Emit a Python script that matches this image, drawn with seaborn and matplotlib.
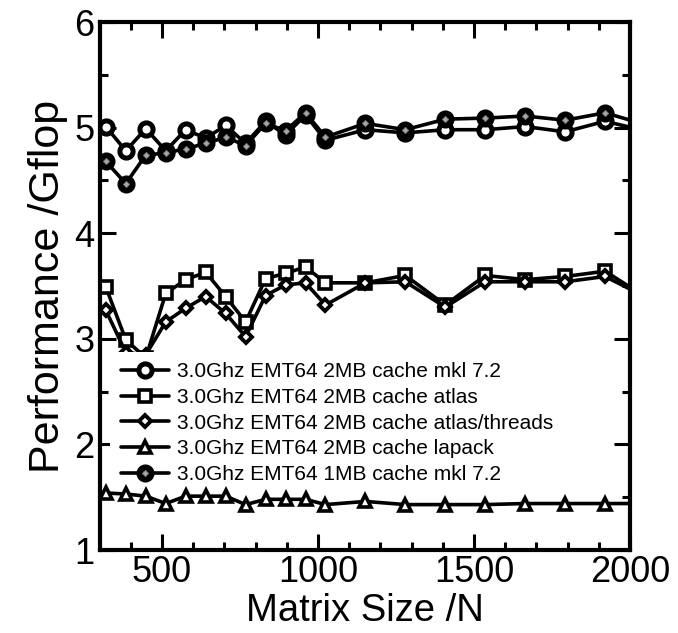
import matplotlib
matplotlib.use("Agg")
import matplotlib.pyplot as plt
import seaborn as sns
from matplotlib.ticker import MultipleLocator
from matplotlib.legend_handler import HandlerTuple

# ---- data ----
matrix_n = [320, 384, 448, 512, 576, 640, 704, 768, 832, 896, 960, 1024,
            1152, 1280, 1408, 1536, 1664, 1792, 1920, 2048]
mkl_2mb = [5.01, 4.78, 4.99, 4.78, 4.98, 4.90, 5.02, 4.85, 5.06, 4.93, 5.12, 4.88,
           4.98, 4.95, 4.98, 4.98, 5.01, 4.96, 5.06, 4.97]
atlas_2mb = [3.49, 2.99, 2.82, 3.43, 3.56, 3.63, 3.40, 3.16, 3.57, 3.62, 3.68, 3.53,
             3.53, 3.60, 3.32, 3.60, 3.56, 3.59, 3.64, 3.40]
threads_2mb = [3.27, 2.87, 2.85, 3.16, 3.29, 3.40, 3.24, 3.02, 3.41, 3.51, 3.53, 3.32,
               3.53, 3.54, 3.30, 3.54, 3.54, 3.54, 3.59, 3.40]
lapack_2mb = [1.54, 1.53, 1.51, 1.44, 1.51, 1.51, 1.51, 1.43, 1.48, 1.48, 1.48, 1.43,
              1.46, 1.43, 1.43, 1.43, 1.44, 1.44, 1.44, 1.44]
mkl_1mb = [4.68, 4.47, 4.74, 4.76, 4.80, 4.85, 4.91, 4.83, 5.04, 4.97, 5.14, 4.91,
           5.04, 4.98, 5.08, 5.09, 5.11, 5.07, 5.14, 5.03]
series_labels = ["3.0Ghz EMT64 2MB cache mkl 7.2",
                 "3.0Ghz EMT64 2MB cache atlas",
                 "3.0Ghz EMT64 2MB cache atlas/threads",
                 "3.0Ghz EMT64 2MB cache lapack",
                 "3.0Ghz EMT64 1MB cache mkl 7.2"]
x_label = "Matrix Size /N"
y_label = "Performance /Gflop"

sns.set_theme(style="ticks")
plt.rcParams['font.family'] = ['Liberation Sans', 'DejaVu Sans']
plt.rcParams['text.color'] = 'black'
plt.rcParams['axes.labelcolor'] = 'black'
plt.rcParams['xtick.color'] = 'black'
plt.rcParams['ytick.color'] = 'black'

fig = plt.figure(figsize=(6.78, 6.33), dpi=100)
ax = fig.add_axes([99.6 / 678, 1 - 550 / 633, 530.4 / 678, 528 / 633])

LW = 2.6
common = dict(ax=ax, color="black", linewidth=LW, sort=False, errorbar=None,
              legend=False)

sns.lineplot(x=matrix_n, y=mkl_2mb, marker="o", markersize=9.5,
             markeredgewidth=3.6, markerfacecolor="white",
             markeredgecolor="black", **common)
h_mkl2 = ax.lines[-1]
sns.lineplot(x=matrix_n, y=atlas_2mb, marker="s", markersize=8.5,
             markeredgewidth=2.6, markerfacecolor="white",
             markeredgecolor="black", **common)
h_atlas = ax.lines[-1]
sns.lineplot(x=matrix_n, y=threads_2mb, marker="D", markersize=6.5,
             markeredgewidth=2.8, markerfacecolor="white",
             markeredgecolor="black", **common)
h_thr = ax.lines[-1]
sns.lineplot(x=matrix_n, y=lapack_2mb, marker="^", markersize=9,
             markeredgewidth=2.6, markerfacecolor="white",
             markeredgecolor="black", zorder=6, **common)
h_lap = ax.lines[-1]
sns.lineplot(x=matrix_n, y=mkl_1mb, marker="o", markersize=11,
             markeredgewidth=2, markerfacecolor="black",
             markeredgecolor="black", **common)
h_mkl1 = ax.lines[-1]
sns.lineplot(x=matrix_n, y=mkl_1mb, marker="D", markersize=3.2,
             markeredgewidth=0.6, markerfacecolor="#a8a8a8",
             markeredgecolor="#777777", linestyle="none",
             ax=ax, sort=False, errorbar=None, legend=False, zorder=4)
h_mkl1_dot = ax.lines[-1]

ax.set_xlim(300, 2000)
ax.set_ylim(1, 6)
ax.xaxis.set_major_locator(MultipleLocator(500))
ax.xaxis.set_minor_locator(MultipleLocator(100))
ax.yaxis.set_major_locator(MultipleLocator(1))
ax.yaxis.set_minor_locator(MultipleLocator(0.5))

for s in ax.spines.values():
    s.set_linewidth(3)
    s.set_color("black")
    s.set_visible(True)
ax.tick_params(which="both", direction="in", top=True, right=True,
               width=2.2, color="black", labelcolor="black")
ax.tick_params(which="major", length=11.5, labelsize=26, pad=3.5)
ax.tick_params(which="minor", length=6)

ax.set_xlabel(x_label, fontsize=27.5, labelpad=2)
ax.set_ylabel(y_label, fontsize=31, labelpad=5)

leg = ax.legend([h_mkl2, h_atlas, h_thr, h_lap, (h_mkl1, h_mkl1_dot)],
                series_labels,
                handler_map={tuple: HandlerTuple(ndivide=1, pad=0)},
                loc="upper left", bbox_to_anchor=(0.02, 0.375),
                borderaxespad=0, borderpad=0.5, fontsize=15,
                handlelength=2.3, handletextpad=0.4, labelspacing=0.32,
                frameon=True, framealpha=1, fancybox=False)
leg.get_frame().set_facecolor("white")
leg.get_frame().set_edgecolor("none")

fig.savefig("out.png", dpi=100)
